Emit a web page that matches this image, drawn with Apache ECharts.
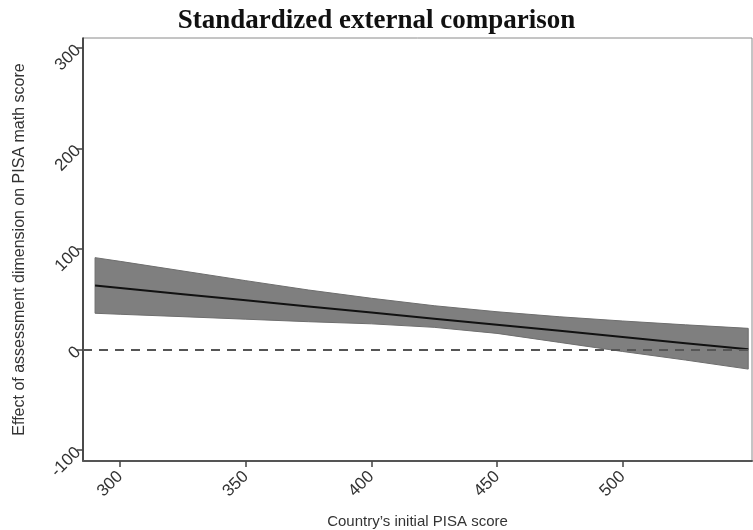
<!DOCTYPE html>
<html><head><meta charset="utf-8">
<script src="https://cdn.jsdelivr.net/npm/echarts@6/dist/echarts.min.js"></script>
<style>html,body{margin:0;padding:0;background:#fff}#c{width:753px;height:530px}</style>
</head><body><div id="c"></div>
<script>
const scores  = [290, 300, 325, 350, 375, 400, 425, 450, 475, 500, 525, 550];
const effect  = [63.5, 61.1, 55, 48.9, 42.8, 36.7, 30.6, 24.5, 18.5, 12.4, 6.3, 0.2];
const upperCI = [91.3, 87.6, 78, 68.4, 59.1, 50.9, 43.5, 37.5, 32.5, 28.3, 24.5, 21];
const lowerCI = [36, 35, 32.6, 30.1, 27.6, 25.5, 22, 16, 7, -2, -10.5, -19.5];
const xTicks = [300, 350, 400, 450, 500];
const yTicks = [-100, 0, 100, 200, 300];
const refValue = 0;

const bandData = scores.map((s, i) => [s, upperCI[i], lowerCI[i]]);
const effectData = scores.map((s, i) => [s, effect[i]]);

const font = 'Liberation Sans, Arial, sans-serif';
const chart = echarts.init(document.getElementById('c'), null, {renderer: 'canvas'});
chart.setOption({
  animation: false,
  backgroundColor: '#fff',
  title: {
    text: 'Standardized external comparison',
    left: 'center', top: 3,
    textStyle: {fontFamily: 'Liberation Serif, Times New Roman, serif', fontWeight: 'bold', fontSize: 27, color: '#111'}
  },
  grid: {left: 83, top: 38, right: 1, bottom: 69, show: true, borderColor: '#8a8a8a', borderWidth: 1,
         containLabel: false, outerBoundsMode: 'none'},
  xAxis: {
    type: 'value', min: 285.2, max: 551.5,
    name: 'Country\u2019s initial PISA score', nameLocation: 'middle', nameGap: 53,
    nameTextStyle: {fontFamily: font, fontSize: 15, color: '#333'},
    axisLine: {show: true, onZero: false, lineStyle: {color: '#555', width: 2}},
    axisTick: {show: true, length: 6, customValues: xTicks, lineStyle: {color: '#444', width: 1.5}},
    axisLabel: {customValues: xTicks, rotate: 45, margin: 13, fontFamily: font, fontSize: 17, color: '#333'},
    splitLine: {show: false}
  },
  yAxis: {
    type: 'value', min: -110.9, max: 309.7,
    name: 'Effect of assessment dimension on PISA math score', nameLocation: 'middle', nameGap: 55,
    nameTextStyle: {fontFamily: font, fontSize: 16, color: '#333'},
    axisLine: {show: true, onZero: false, lineStyle: {color: '#222', width: 1.5}},
    axisTick: {show: true, length: 6, customValues: yTicks, lineStyle: {color: '#444', width: 1.5}},
    axisLabel: {customValues: yTicks, rotate: 45, margin: 5, fontFamily: font, fontSize: 17, color: '#333'},
    splitLine: {show: false}
  },
  series: [
    {
      type: 'line', name: 'reference', data: [], symbol: 'none', z: 1, silent: true,
      markLine: {
        silent: true, symbol: ['none', 'none'], label: {show: false},
        lineStyle: {type: [9, 7], color: '#555', width: 2},
        data: [{yAxis: refValue}]
      }
    },
    {
      type: 'custom', name: 'band', data: bandData, z: 3, silent: true,
      encode: {x: 0, y: [1, 2]},
      renderItem: function (params, api) {
        if (params.dataIndex !== 0) return null;
        const top = bandData.map(d => api.coord([d[0], d[1]]));
        const bot = bandData.slice().reverse().map(d => api.coord([d[0], d[2]]));
        return {
          type: 'polygon',
          shape: {points: top.concat(bot)},
          style: {fill: '#7f7f7f', stroke: '#6e6e6e', lineWidth: 1}
        };
      }
    },
    {
      type: 'line', name: 'effect', data: effectData, symbol: 'none',
      lineStyle: {color: '#111', width: 2}, z: 4, silent: true
    }
  ]
});
</script></body></html>
